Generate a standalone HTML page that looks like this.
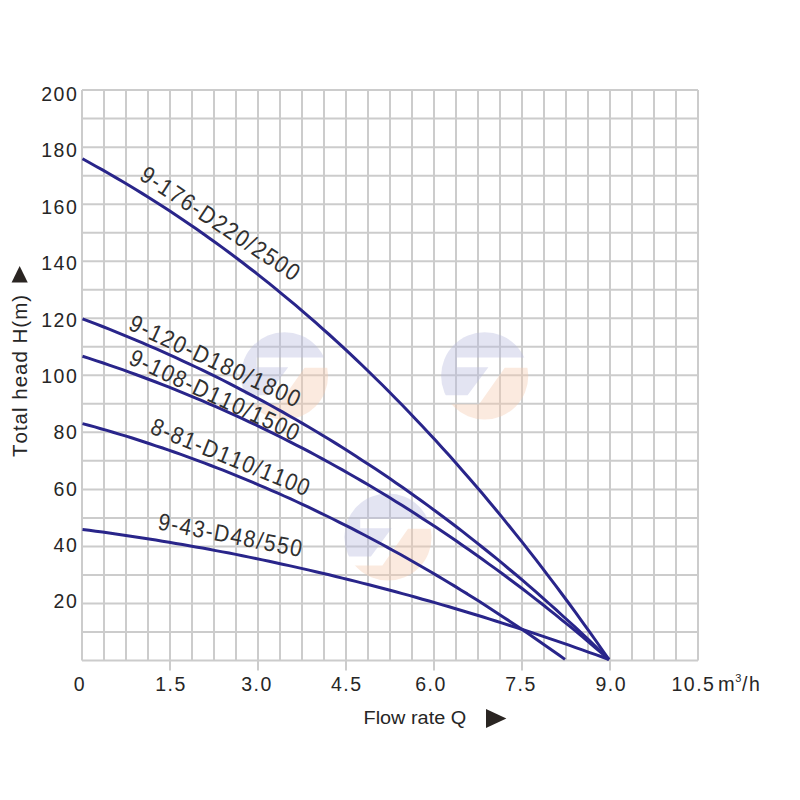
<!DOCTYPE html>
<html><head><meta charset="utf-8"><style>
html,body{margin:0;padding:0;background:#fff;}
svg{display:block;}
text{font-kerning:none;}
.t{font-family:"Liberation Sans",sans-serif;font-size:19.5px;fill:#262626;letter-spacing:1.5px;}
.cl{font-family:"Liberation Sans",sans-serif;font-size:24px;fill:#303030;}
.lb{font-family:"Liberation Sans",sans-serif;font-size:20.5px;fill:#262626;letter-spacing:1px;}
</style></head><body>
<svg width="800" height="800" viewBox="0 0 800 800">
<defs><clipPath id="lc"><circle r="43.6"/></clipPath></defs>
<rect width="800" height="800" fill="#fff"/>
<g stroke="#cccccc" stroke-width="2" fill="none">
<line x1="82" y1="90" x2="82" y2="660.4"/><line x1="104" y1="90" x2="104" y2="660.4"/><line x1="126" y1="90" x2="126" y2="660.4"/><line x1="148" y1="90" x2="148" y2="660.4"/><line x1="170" y1="90" x2="170" y2="660.4"/><line x1="192" y1="90" x2="192" y2="660.4"/><line x1="214" y1="90" x2="214" y2="660.4"/><line x1="236" y1="90" x2="236" y2="660.4"/><line x1="258" y1="90" x2="258" y2="660.4"/><line x1="280" y1="90" x2="280" y2="660.4"/><line x1="302" y1="90" x2="302" y2="660.4"/><line x1="324" y1="90" x2="324" y2="660.4"/><line x1="346" y1="90" x2="346" y2="660.4"/><line x1="368" y1="90" x2="368" y2="660.4"/><line x1="390" y1="90" x2="390" y2="660.4"/><line x1="412" y1="90" x2="412" y2="660.4"/><line x1="434" y1="90" x2="434" y2="660.4"/><line x1="456" y1="90" x2="456" y2="660.4"/><line x1="478" y1="90" x2="478" y2="660.4"/><line x1="500" y1="90" x2="500" y2="660.4"/><line x1="522" y1="90" x2="522" y2="660.4"/><line x1="544" y1="90" x2="544" y2="660.4"/><line x1="566" y1="90" x2="566" y2="660.4"/><line x1="588" y1="90" x2="588" y2="660.4"/><line x1="610" y1="90" x2="610" y2="660.4"/><line x1="632" y1="90" x2="632" y2="660.4"/><line x1="654" y1="90" x2="654" y2="660.4"/><line x1="676" y1="90" x2="676" y2="660.4"/><line x1="698" y1="90" x2="698" y2="660.4"/><line x1="82" y1="90.10" x2="698" y2="90.10"/><line x1="82" y1="118.62" x2="698" y2="118.62"/><line x1="82" y1="147.14" x2="698" y2="147.14"/><line x1="82" y1="175.66" x2="698" y2="175.66"/><line x1="82" y1="204.18" x2="698" y2="204.18"/><line x1="82" y1="232.70" x2="698" y2="232.70"/><line x1="82" y1="261.22" x2="698" y2="261.22"/><line x1="82" y1="289.74" x2="698" y2="289.74"/><line x1="82" y1="318.26" x2="698" y2="318.26"/><line x1="82" y1="346.78" x2="698" y2="346.78"/><line x1="82" y1="375.30" x2="698" y2="375.30"/><line x1="82" y1="403.82" x2="698" y2="403.82"/><line x1="82" y1="432.34" x2="698" y2="432.34"/><line x1="82" y1="460.86" x2="698" y2="460.86"/><line x1="82" y1="489.38" x2="698" y2="489.38"/><line x1="82" y1="517.90" x2="698" y2="517.90"/><line x1="82" y1="546.42" x2="698" y2="546.42"/><line x1="82" y1="574.94" x2="698" y2="574.94"/><line x1="82" y1="603.46" x2="698" y2="603.46"/><line x1="82" y1="631.98" x2="698" y2="631.98"/><line x1="82" y1="660.50" x2="698" y2="660.50"/><line x1="170" y1="660" x2="170" y2="670.5"/><line x1="258" y1="660" x2="258" y2="670.5"/><line x1="346" y1="660" x2="346" y2="670.5"/><line x1="434" y1="660" x2="434" y2="670.5"/><line x1="522" y1="660" x2="522" y2="670.5"/><line x1="610" y1="660" x2="610" y2="670.5"/>
</g>
<g transform="translate(284.5,375.85)" clip-path="url(#lc)" opacity="0.4">
<path d="M-50,-50 L50,-50 L50,-18.3 L-27.8,-18.3 L-27.8,-8.7 L3.7,-8.7 L-17.1,19.4 L-50,19.4 Z" fill="#b9bbdf"/>
<path d="M20,-8.15 L50,-8.15 L50,50 L-50,50 L-50,28.4 L-5.6,28.4 Z" fill="#f6cbb0"/>
</g><g transform="translate(484.7,375.85)" clip-path="url(#lc)" opacity="0.4">
<path d="M-50,-50 L50,-50 L50,-18.3 L-27.8,-18.3 L-27.8,-8.7 L3.7,-8.7 L-17.1,19.4 L-50,19.4 Z" fill="#b9bbdf"/>
<path d="M20,-8.15 L50,-8.15 L50,50 L-50,50 L-50,28.4 L-5.6,28.4 Z" fill="#f6cbb0"/>
</g><g transform="translate(388,537)" clip-path="url(#lc)" opacity="0.4">
<path d="M-50,-50 L50,-50 L50,-18.3 L-27.8,-18.3 L-27.8,-8.7 L3.7,-8.7 L-17.1,19.4 L-50,19.4 Z" fill="#b9bbdf"/>
<path d="M20,-8.15 L50,-8.15 L50,50 L-50,50 L-50,28.4 L-5.6,28.4 Z" fill="#f6cbb0"/>
</g>
<g stroke="#29258a" stroke-width="3" fill="none" stroke-linejoin="round">
<path d="M82.5,158.8 L89.2,162.5 L95.8,166.2 L102.5,169.9 L109.2,173.7 L115.8,177.6 L122.5,181.5 L129.2,185.5 L135.8,189.5 L142.5,193.6 L149.1,197.8 L155.8,202.0 L162.5,206.3 L169.1,210.6 L175.8,215.0 L182.5,219.5 L189.1,224.0 L195.8,228.6 L202.5,233.2 L209.1,238.0 L215.8,242.7 L222.5,247.6 L229.1,252.5 L235.8,257.5 L242.4,262.5 L249.1,267.7 L255.8,272.8 L262.4,278.1 L269.1,283.4 L275.8,288.8 L282.4,294.3 L289.1,299.8 L295.8,305.4 L302.4,311.1 L309.1,316.8 L315.8,322.7 L322.4,328.6 L329.1,334.5 L335.8,340.6 L342.4,346.7 L349.1,352.9 L355.7,359.2 L362.4,365.5 L369.1,372.0 L375.7,378.5 L382.4,385.0 L389.1,391.7 L395.7,398.5 L402.4,405.3 L409.1,412.2 L415.7,419.2 L422.4,426.2 L429.1,433.4 L435.7,440.6 L442.4,447.9 L449.1,455.3 L455.7,462.8 L462.4,470.4 L469.0,478.1 L475.7,485.8 L482.4,493.6 L489.0,501.5 L495.7,509.5 L502.4,517.6 L509.0,525.8 L515.7,534.1 L522.4,542.4 L529.0,550.9 L535.7,559.4 L542.4,568.1 L549.0,576.8 L555.7,585.6 L562.3,594.5 L569.0,603.5 L575.7,612.6 L582.3,621.8 L589.0,631.1 L595.7,640.5 L602.3,650.0 L609.0,659.6"/><path d="M82.5,318.8 L89.2,321.3 L95.8,323.9 L102.5,326.5 L109.2,329.1 L115.8,331.8 L122.5,334.6 L129.2,337.3 L135.8,340.1 L142.5,342.9 L149.1,345.8 L155.8,348.7 L162.5,351.7 L169.1,354.7 L175.8,357.7 L182.5,360.8 L189.1,363.9 L195.8,367.0 L202.5,370.2 L209.1,373.4 L215.8,376.7 L222.5,380.0 L229.1,383.4 L235.8,386.8 L242.4,390.3 L249.1,393.8 L255.8,397.3 L262.4,400.9 L269.1,404.5 L275.8,408.2 L282.4,411.9 L289.1,415.7 L295.8,419.5 L302.4,423.4 L309.1,427.3 L315.8,431.2 L322.4,435.2 L329.1,439.3 L335.8,443.4 L342.4,447.6 L349.1,451.8 L355.7,456.0 L362.4,460.4 L369.1,464.7 L375.7,469.1 L382.4,473.6 L389.1,478.1 L395.7,482.7 L402.4,487.3 L409.1,492.0 L415.7,496.7 L422.4,501.5 L429.1,506.4 L435.7,511.3 L442.4,516.2 L449.1,521.2 L455.7,526.3 L462.4,531.4 L469.0,536.6 L475.7,541.9 L482.4,547.2 L489.0,552.5 L495.7,557.9 L502.4,563.4 L509.0,569.0 L515.7,574.5 L522.4,580.2 L529.0,585.9 L535.7,591.7 L542.4,597.6 L549.0,603.5 L555.7,609.4 L562.3,615.5 L569.0,621.5 L575.7,627.7 L582.3,633.9 L589.0,640.2 L595.7,646.6 L602.3,653.0 L609.0,659.5"/><path d="M82.5,356.3 L89.2,358.4 L95.8,360.6 L102.5,362.8 L109.2,365.1 L115.8,367.4 L122.5,369.7 L129.2,372.1 L135.8,374.5 L142.5,377.0 L149.1,379.5 L155.8,382.0 L162.5,384.6 L169.1,387.2 L175.8,389.9 L182.5,392.6 L189.1,395.3 L195.8,398.1 L202.5,400.9 L209.1,403.8 L215.8,406.7 L222.5,409.6 L229.1,412.6 L235.8,415.6 L242.4,418.7 L249.1,421.8 L255.8,424.9 L262.4,428.1 L269.1,431.4 L275.8,434.7 L282.4,438.0 L289.1,441.4 L295.8,444.8 L302.4,448.2 L309.1,451.7 L315.8,455.3 L322.4,458.9 L329.1,462.5 L335.8,466.2 L342.4,469.9 L349.1,473.7 L355.7,477.5 L362.4,481.4 L369.1,485.3 L375.7,489.3 L382.4,493.3 L389.1,497.3 L395.7,501.4 L402.4,505.6 L409.1,509.8 L415.7,514.1 L422.4,518.4 L429.1,522.7 L435.7,527.1 L442.4,531.5 L449.1,536.0 L455.7,540.6 L462.4,545.2 L469.0,549.8 L475.7,554.5 L482.4,559.3 L489.0,564.1 L495.7,568.9 L502.4,573.8 L509.0,578.8 L515.7,583.8 L522.4,588.8 L529.0,593.9 L535.7,599.1 L542.4,604.3 L549.0,609.6 L555.7,614.9 L562.3,620.3 L569.0,625.7 L575.7,631.2 L582.3,636.7 L589.0,642.3 L595.7,648.0 L602.3,653.7 L609.0,659.4"/><path d="M82.5,423.6 L88.6,425.2 L94.7,426.9 L100.8,428.7 L106.9,430.4 L113.0,432.2 L119.1,434.1 L125.3,435.9 L131.4,437.8 L137.5,439.8 L143.6,441.7 L149.7,443.7 L155.8,445.8 L161.9,447.8 L168.0,449.9 L174.1,452.0 L180.2,454.2 L186.3,456.4 L192.4,458.6 L198.5,460.9 L204.7,463.2 L210.8,465.5 L216.9,467.8 L223.0,470.2 L229.1,472.6 L235.2,475.1 L241.3,477.6 L247.4,480.1 L253.5,482.7 L259.6,485.3 L265.7,487.9 L271.8,490.6 L277.9,493.2 L284.1,496.0 L290.2,498.7 L296.3,501.5 L302.4,504.4 L308.5,507.2 L314.6,510.1 L320.7,513.1 L326.8,516.0 L332.9,519.0 L339.0,522.1 L345.1,525.1 L351.2,528.2 L357.3,531.4 L363.4,534.5 L369.6,537.8 L375.7,541.0 L381.8,544.3 L387.9,547.6 L394.0,551.0 L400.1,554.3 L406.2,557.8 L412.3,561.2 L418.4,564.7 L424.5,568.2 L430.6,571.8 L436.7,575.4 L442.8,579.0 L449.0,582.7 L455.1,586.4 L461.2,590.2 L467.3,593.9 L473.4,597.8 L479.5,601.6 L485.6,605.5 L491.7,609.4 L497.8,613.4 L503.9,617.4 L510.0,621.4 L516.1,625.5 L522.2,629.6 L528.4,633.7 L534.5,637.9 L540.6,642.2 L546.7,646.4 L552.8,650.7 L558.9,655.0 L565.0,659.4"/><path d="M82.5,529.4 L89.2,530.3 L95.8,531.2 L102.5,532.1 L109.2,533.0 L115.8,533.9 L122.5,534.9 L129.2,535.9 L135.8,536.9 L142.5,537.9 L149.1,539.0 L155.8,540.1 L162.5,541.2 L169.1,542.3 L175.8,543.4 L182.5,544.5 L189.1,545.7 L195.8,546.9 L202.5,548.1 L209.1,549.3 L215.8,550.6 L222.5,551.9 L229.1,553.1 L235.8,554.4 L242.4,555.8 L249.1,557.1 L255.8,558.5 L262.4,559.9 L269.1,561.3 L275.8,562.7 L282.4,564.2 L289.1,565.6 L295.8,567.1 L302.4,568.6 L309.1,570.1 L315.8,571.7 L322.4,573.3 L329.1,574.8 L335.8,576.5 L342.4,578.1 L349.1,579.7 L355.7,581.4 L362.4,583.1 L369.1,584.8 L375.7,586.5 L382.4,588.3 L389.1,590.0 L395.7,591.8 L402.4,593.6 L409.1,595.4 L415.7,597.3 L422.4,599.2 L429.1,601.0 L435.7,602.9 L442.4,604.9 L449.1,606.8 L455.7,608.8 L462.4,610.8 L469.0,612.8 L475.7,614.8 L482.4,616.8 L489.0,618.9 L495.7,621.0 L502.4,623.1 L509.0,625.2 L515.7,627.4 L522.4,629.5 L529.0,631.7 L535.7,633.9 L542.4,636.1 L549.0,638.4 L555.7,640.6 L562.3,642.9 L569.0,645.2 L575.7,647.6 L582.3,649.9 L589.0,652.3 L595.7,654.6 L602.3,657.0 L609.0,659.5"/>
</g>
<text x="78.25" y="100.8" text-anchor="end" class="t">200</text><text x="78.25" y="157.2" text-anchor="end" class="t">180</text><text x="78.25" y="213.7" text-anchor="end" class="t">160</text><text x="78.25" y="270.1" text-anchor="end" class="t">140</text><text x="78.25" y="326.5" text-anchor="end" class="t">120</text><text x="78.25" y="382.9" text-anchor="end" class="t">100</text><text x="78.25" y="439.2" text-anchor="end" class="t">80</text><text x="78.25" y="495.7" text-anchor="end" class="t">60</text><text x="78.25" y="552.1" text-anchor="end" class="t">40</text><text x="78.25" y="608.4" text-anchor="end" class="t">20</text>
<text x="80" y="690.5" text-anchor="middle" class="t">0</text><text x="171" y="690.5" text-anchor="middle" class="t">1.5</text><text x="257" y="690.5" text-anchor="middle" class="t">3.0</text><text x="346.8" y="690.5" text-anchor="middle" class="t">4.5</text><text x="431" y="690.5" text-anchor="middle" class="t">6.0</text><text x="521" y="690.5" text-anchor="middle" class="t">7.5</text><text x="611.3" y="690.5" text-anchor="middle" class="t">9.0</text>
<text x="671.5" y="690.5" class="t">10.5</text>
<text x="718" y="690.5" class="t" style="letter-spacing:0;font-size:20px">m</text>
<text x="735.2" y="681.5" class="t" style="font-size:11px;letter-spacing:0">3</text>
<text x="742" y="690.5" class="t" style="letter-spacing:0">/</text>
<text x="749" y="690.5" class="t" style="letter-spacing:0;font-size:19.5px">h</text>
<text transform="translate(363.5,724) scale(1.075,1)" class="lb" style="font-size:18.5px;letter-spacing:0">Flow rate Q</text>
<text transform="translate(220.30,223.10) rotate(33.59) scale(0.88,1)" x="0.875" y="8.59" text-anchor="middle" class="cl" style="letter-spacing:1.75px">9-176-D220/2500</text><text transform="translate(215.10,360.50) rotate(25.02) scale(0.88,1)" x="0.875" y="8.59" text-anchor="middle" class="cl" style="letter-spacing:1.75px">9-120-D180/1800</text><text transform="translate(214.78,394.62) rotate(24.99) scale(0.88,1)" x="0.815" y="8.59" text-anchor="middle" class="cl" style="letter-spacing:1.63px">9-108-D110/1500</text><text transform="translate(230.51,456.69) rotate(22.1) scale(0.88,1)" x="0.725" y="8.59" text-anchor="middle" class="cl" style="letter-spacing:1.45px">8-81-D110/1100</text><text transform="translate(230.20,534.70) rotate(10.96) scale(0.88,1)" x="0.875" y="8.59" text-anchor="middle" class="cl" style="letter-spacing:1.75px">9-43-D48/550</text>
<path d="M486,709 L506.4,718.5 L486,728 Z" fill="#2a2522"/>
<path d="M19.65,266 L27.75,282.6 L11.6,282.6 Z" fill="#2a2522"/>
<text transform="translate(27,457) rotate(-90)" class="lb">Total head H(m)</text>
</svg>
</body></html>
